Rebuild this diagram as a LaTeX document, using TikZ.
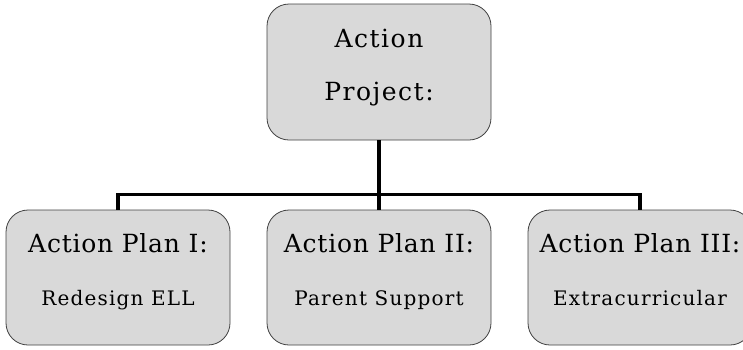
\documentclass[tikz,border=0pt]{standalone}
\usepackage{fontspec}
\setmainfont{DejaVu Serif}
\newfontfamily\titlefam[LetterSpace=3]{DejaVu Serif}
\newfontfamily\subfam[LetterSpace=6]{DejaVu Serif}
\newfontfamily\topfam[LetterSpace=6]{DejaVu Serif}
\begin{document}
\begin{tikzpicture}[x=1pt,y=-1pt,
  box/.style={draw=black!75, line width=0.8pt, fill=black!15, rounded corners=22pt, minimum width=224pt, minimum height=135pt, inner sep=0pt},
  conn/.style={draw=black, line width=3.2pt},
  titletext/.style={font=\titlefam\fontsize{25}{30}\selectfont, inner sep=0pt},
  subtext/.style={font=\subfam\fontsize{20}{24}\selectfont, inner sep=0pt},
  toptext/.style={font=\topfam\fontsize{25}{53}\selectfont, align=center, inner sep=0pt}]
\useasboundingbox (0,0) rectangle (743,349);
\clip (0,0) rectangle (743,349);
\node[box, minimum height=136pt] (top) at (379,72) {};
\node[box] (p1) at (118,277.5) {};
\node[box] (p2) at (379,277.5) {};
\node[box] (p3) at (640,277.5) {};
\node[toptext, anchor=base] (tt) at (379,100) {Action\\Project:};
\node[titletext, anchor=base] (t1) at (p1.center |- 0,252) {Action Plan I:};
\node[titletext, anchor=base] (t2) at (p2.center |- 0,252) {Action Plan II:};
\node[titletext, anchor=base] (t3) at (p3.center |- 0,252) {Action Plan III:};
\node[subtext, anchor=base] (s1) at (p1.center |- 0,305) {Redesign ELL};
\node[subtext, anchor=base] (s2) at (p2.center |- 0,305) {Parent Support};
\node[subtext, anchor=base] (s3) at (p3.center |- 0,305) {Extracurricular};
\draw[conn] (top.south) -- (p2.north);
\draw[conn] (p1.north) -- ++(0,-15) -| (p3.north);
\end{tikzpicture}
\end{document}
